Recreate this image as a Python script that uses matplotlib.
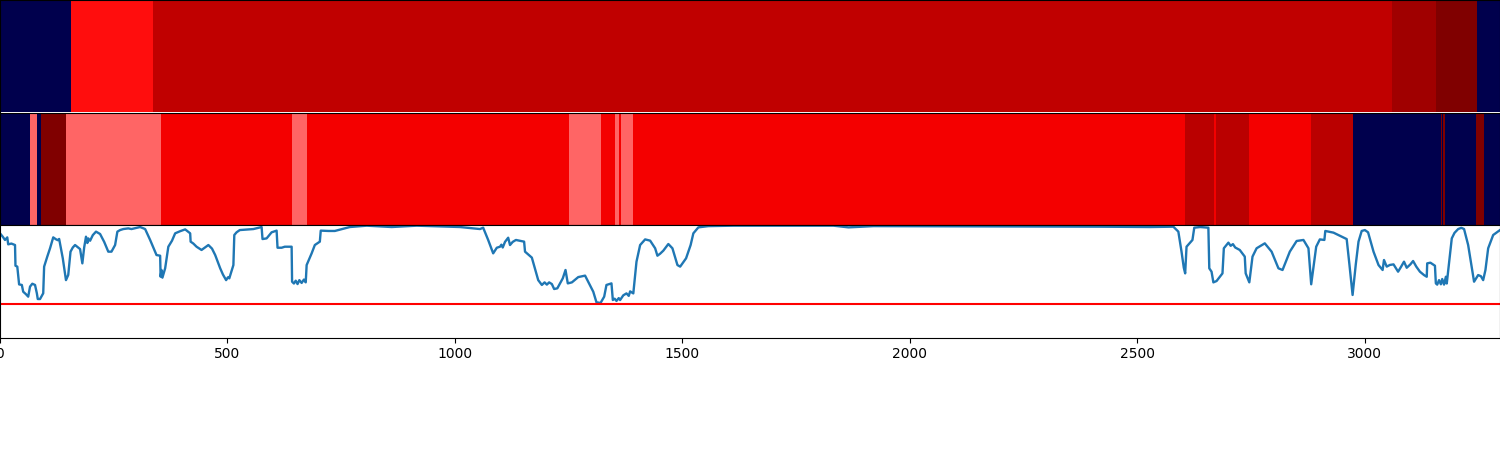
import numpy as np
import matplotlib
matplotlib.use("Agg")
import matplotlib.pyplot as plt

# class bands, edges in samples, colour value on the seismic scale
topEdges = [0, 156, 336, 3059, 3156, 3246, 3297]
topValues = [0.0, 0.735, 0.873, 0.936, 1.0, 0.0]

midEdges = [0, 66, 81, 90, 145, 354, 642, 675, 1251, 1321, 1352, 1360, 1365, 1391,
            2604, 2668, 2672, 2745, 2882, 2974, 3167, 3169, 3171, 3176, 3244, 3262, 3297]
midValues = [0.0, 0.652, 0.0, 1.0, 0.652, 0.77, 0.652, 0.77, 0.652, 0.77, 0.652, 0.77, 0.652,
             0.77, 0.885, 0.77, 0.885, 0.77, 0.885, 0.0, 1.0, 0.0, 1.0, 0.0, 1.0, 0.0]

# confidence curve, same number of values on each row of both lists
lineX = [0, 6, 11, 16, 18, 25, 33, 34, 38, 42,
         48, 51, 57, 62, 66, 71, 77, 81, 83, 88,
         95, 97, 104, 110, 117, 123, 127, 130, 138, 145,
         150, 155, 160, 165, 176, 181, 185, 189, 192, 194,
         198, 204, 211, 220, 229, 238, 245, 253, 258, 264,
         271, 282, 289, 300, 308, 319, 330, 337, 344, 352,
         353, 355, 357, 363, 370, 378, 385, 396, 407, 418,
         419, 425, 432, 443, 458, 466, 473, 484, 490, 497,
         501, 504, 513, 515, 520, 527, 557, 575, 577, 586,
         597, 608, 610, 619, 626, 641, 642, 646, 650, 654,
         658, 663, 668, 672, 674, 685, 692, 703, 705, 722,
         736, 769, 806, 861, 916, 1011, 1055, 1062, 1073, 1084,
         1092, 1099, 1102, 1105, 1110, 1117, 1121, 1127, 1134, 1152,
         1154, 1169, 1183, 1191, 1197, 1202, 1207, 1213, 1218, 1225,
         1237, 1243, 1248, 1257, 1271, 1286, 1304, 1311, 1320, 1328,
         1333, 1344, 1347, 1351, 1355, 1360, 1363, 1370, 1377, 1382,
         1385, 1392, 1399, 1407, 1418, 1429, 1440, 1445, 1451, 1458,
         1469, 1478, 1489, 1495, 1508, 1518, 1524, 1535, 1557, 1612,
         1832, 1865, 1920, 2418, 2528, 2579, 2590, 2597, 2602, 2605,
         2608, 2621, 2625, 2638, 2656, 2658, 2663, 2667, 2674, 2687,
         2690, 2700, 2705, 2710, 2715, 2725, 2736, 2738, 2746, 2753,
         2762, 2780, 2795, 2810, 2819, 2835, 2850, 2865, 2876, 2882,
         2893, 2901, 2911, 2913, 2931, 2960, 2966, 2973, 2980, 2986,
         2993, 3000, 3007, 3019, 3030, 3039, 3042, 3048, 3055, 3063,
         3073, 3079, 3086, 3092, 3100, 3106, 3113, 3121, 3130, 3136,
         3137, 3144, 3154, 3156, 3159, 3163, 3167, 3170, 3174, 3178,
         3180, 3186, 3191, 3197, 3205, 3212, 3218, 3227, 3240, 3249,
         3255, 3260, 3265, 3271, 3282, 3297]
lineY = [.926, .896, .867, .89, .828, .835, .822, .638, .63, .472,
         .467, .407, .385, .363, .452, .478, .467, .393, .342, .342,
         .393, .63, .72, .793, .89, .873, .865, .876, .704, .51,
         .556, .763, .8, .822, .786, .659, .8, .896, .84, .881,
         .86, .91, .941, .92, .85, .763, .763, .822, .941, .955,
         .964, .97, .964, .975, .982, .964, .867, .8, .733, .727,
         .54, .6, .532, .615, .807, .86, .926, .945, .961, .926,
         .852, .835, .807, .778, .822, .79, .733, .615, .56, .51,
         .535, .526, .644, .911, .935, .955, .964, .982, .875, .881,
         .935, .95, .798, .798, .807, .807, .496, .48, .505, .475,
         .51, .485, .515, .49, .644, .748, .822, .852, .95, .947,
         .947, .982, .994, .982, .994, .982, .964, .976, .867, .748,
         .798, .807, .825, .8, .85, .887, .822, .85, .867, .852,
         .763, .71, .51, .467, .49, .47, .49, .475, .431, .437,
         .526, .6, .481, .49, .537, .55, .407, .313, .307, .363,
         .467, .481, .333, .345, .325, .35, .333, .375, .392, .37,
         .41, .392, .674, .822, .872, .861, .793, .727, .745, .772,
         .831, .793, .644, .63, .704, .822, .926, .979, .99, .994,
         .994, .979, .99, .985, .982, .985, .941, .763, .62, .57,
         .807, .867, .976, .982, .976, .615, .585, .49, .502, .57,
         .793, .843, .815, .83, .8, .778, .719, .57, .49, .719,
         .793, .837, .763, .615, .6, .763, .858, .867, .793, .473,
         .807, .872, .867, .947, .932, .875, .65, .378, .65, .852,
         .947, .955, .935, .763, .644, .6, .689, .63, .645, .65,
         .585, .625, .674, .62, .65, .68, .63, .585, .555, .54,
         .659, .665, .638, .481, .47, .51, .473, .52, .47, .54,
         .48, .7, .881, .93, .964, .975, .964, .822, .496, .555,
         .545, .51, .6, .793, .911, .955]
threshold = 0.3
xTicks = [0, 500, 1000, 1500, 2000, 2500, 3000]

fig, axes = plt.subplots(3, 1, figsize=(15, 4.5), dpi=100, sharex=True)

# panel positions, thin white gap under the first one
axes[0].set_position([0, 338 / 450, 1, 112 / 450])
axes[1].set_position([0, 225 / 450, 1, 112 / 450])
axes[2].set_position([0, 112.5 / 450, 1, 112.5 / 450])

for ax, edges, values in zip(axes, [topEdges, midEdges], [topValues, midValues]):
    ax.pcolormesh(edges, [0, 1], np.array([values]), cmap="seismic", vmin=0, vmax=1)
    ax.set_yticks([])
    ax.tick_params(axis="x", length=0)
axes[0].spines["bottom"].set_visible(False)

axes[2].plot(lineX, lineY, linewidth=1.7)
axes[2].axhline(threshold, color="red")
axes[2].set_ylim(0, 1)
axes[2].set_yticks([])
axes[2].set_xlim(0, 3297)
axes[2].set_xticks(xTicks)

fig.savefig("out.png")
